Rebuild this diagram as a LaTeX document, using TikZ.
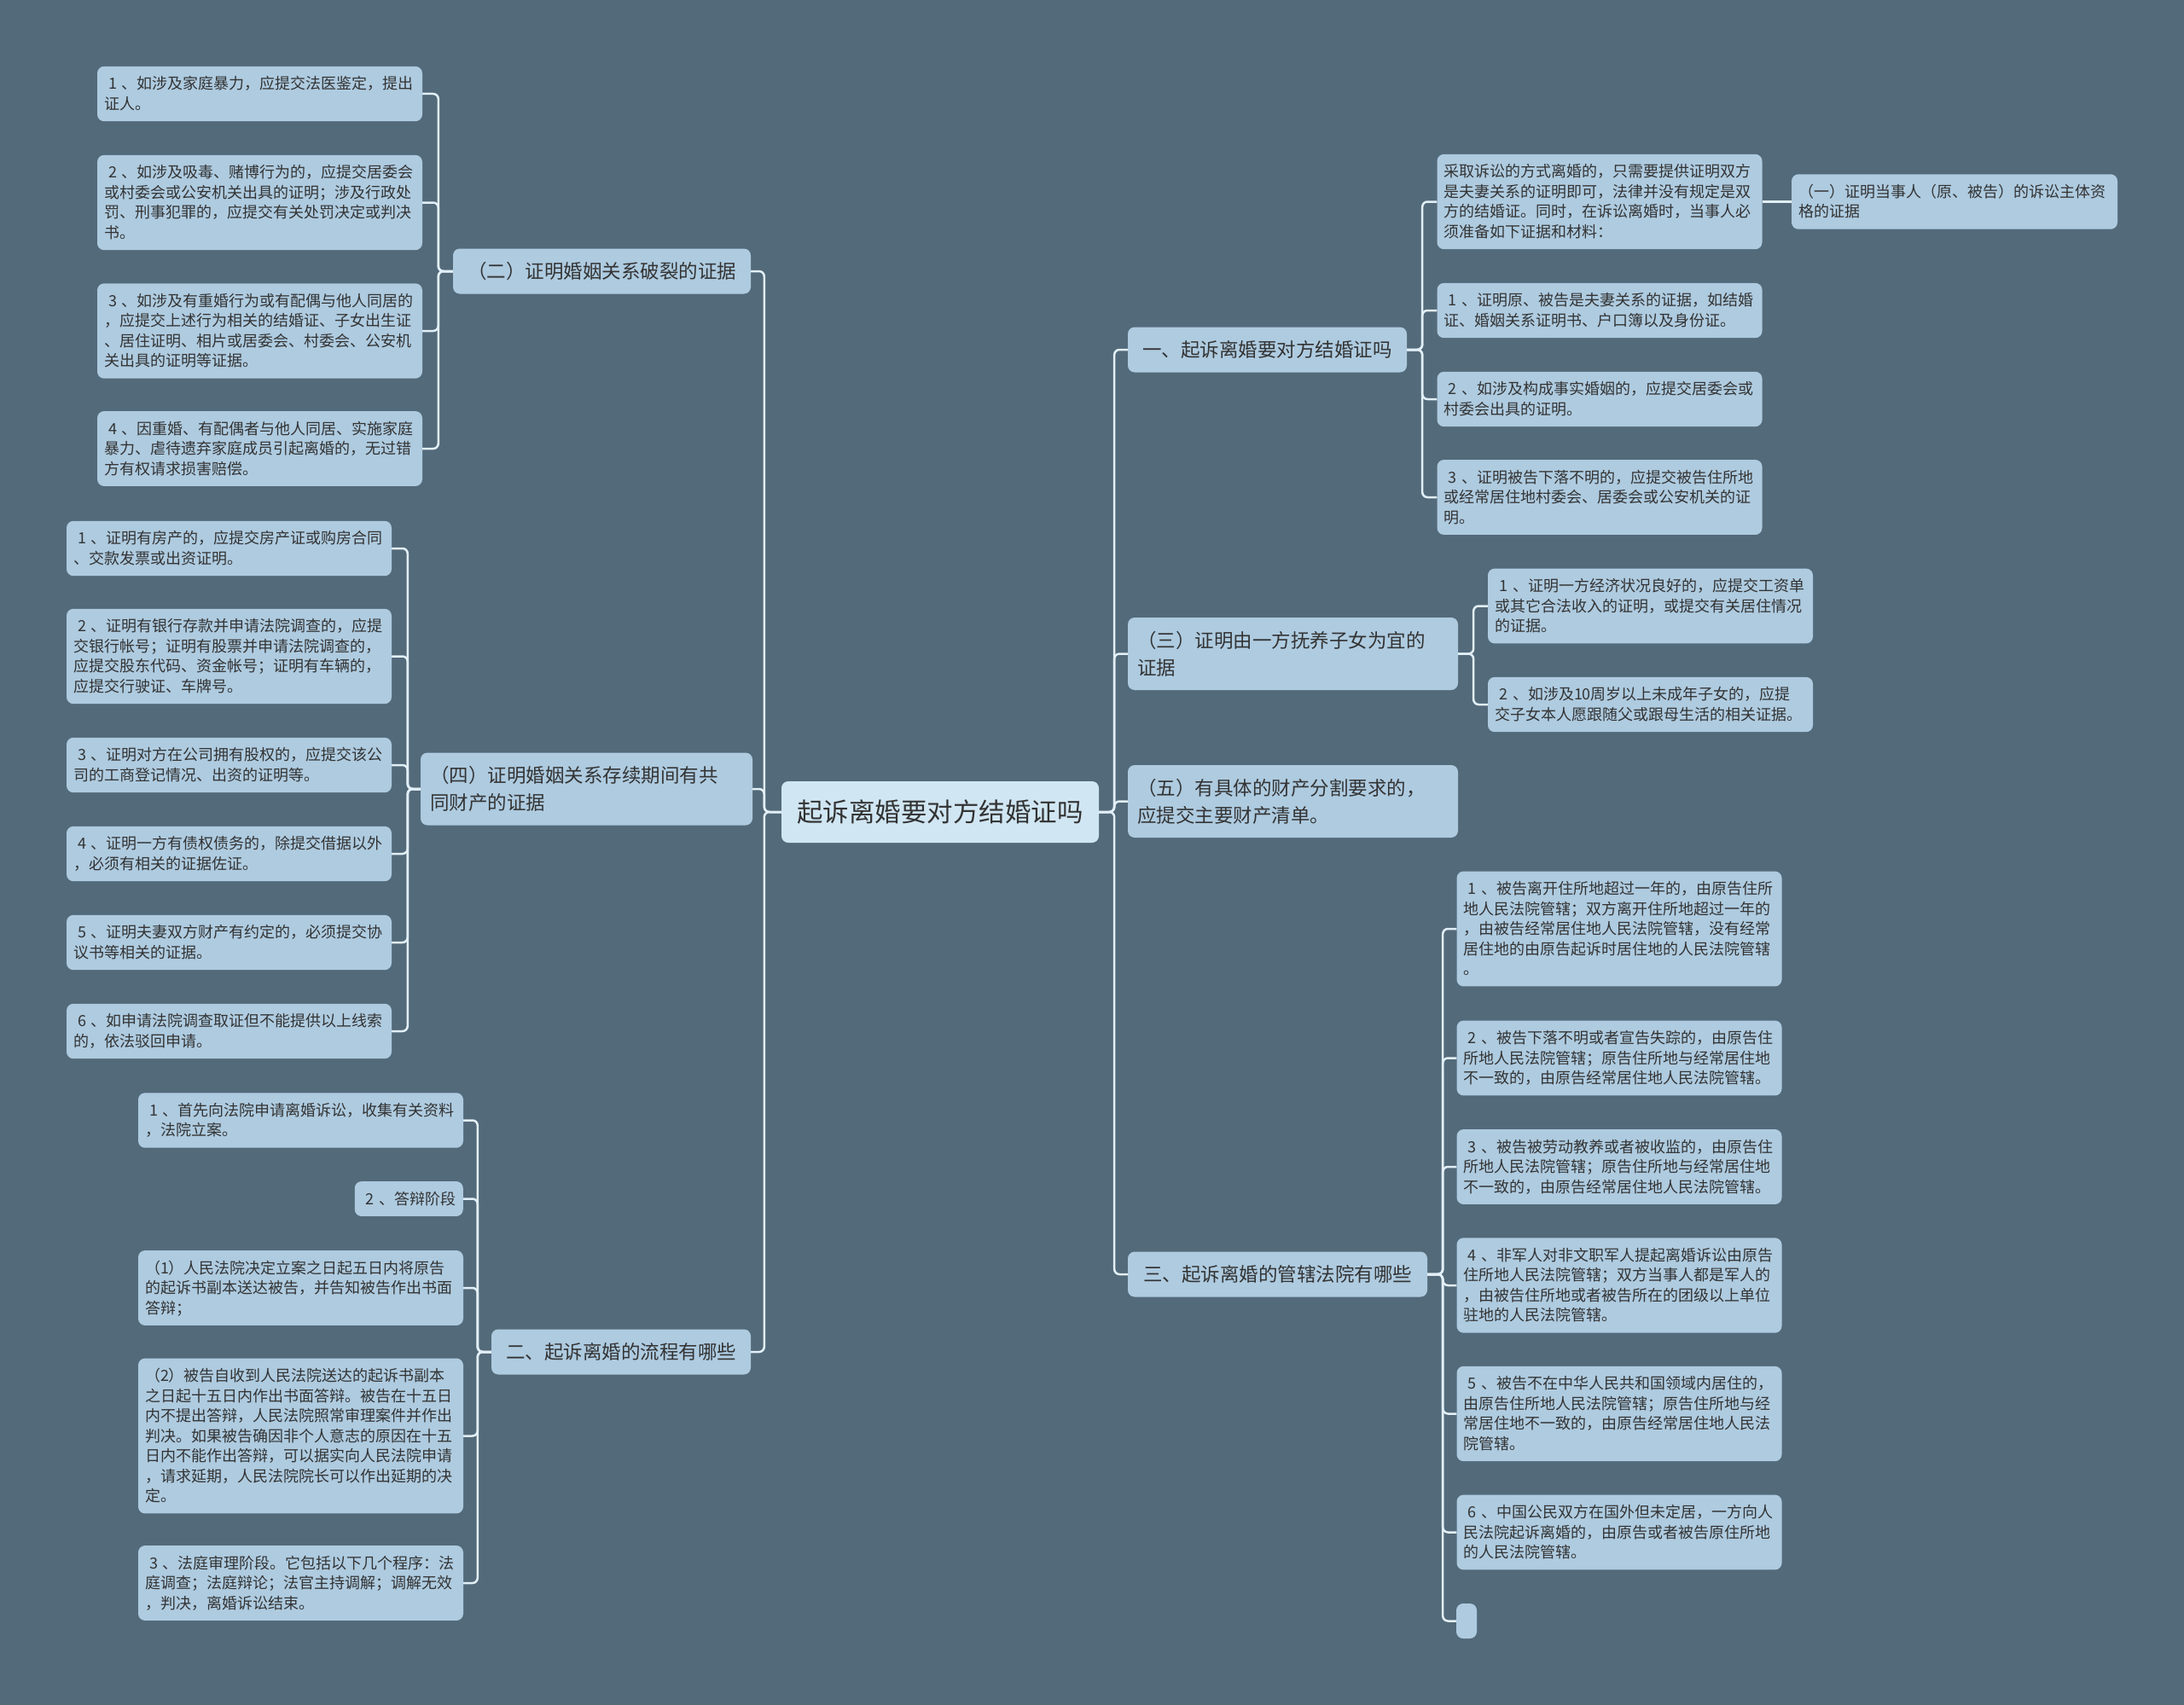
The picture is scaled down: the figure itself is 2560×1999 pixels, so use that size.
\documentclass[tikz,border=0pt]{standalone}
\usepackage{fontspec}
\setmainfont{Noto Sans CJK SC}
\usepackage{tikz}

\definecolor{bgcol}{HTML}{536A7A}
\definecolor{boxcol}{HTML}{AECBE0}
\definecolor{rootcol}{HTML}{D0E6F3}
\definecolor{linecol}{HTML}{E2EFF6}
\definecolor{txtcol}{HTML}{333333}

\newcommand\leaffont{\fontsize{18}{23.5}\selectfont}
\newcommand\branchfont{\fontsize{22.5}{32}\selectfont}
\newcommand\rootfont{\fontsize{30.5}{40}\selectfont}
\newcommand\boxstrut{\rule[-0.22\baselineskip]{0pt}{\baselineskip}}
\newcommand\idx[1]{\hspace{5pt}#1\hspace{6pt}}

\tikzset{
  box/.style={rounded corners=8pt, fill=boxcol, text=txtcol, align=left,
    execute at begin node=\boxstrut, execute at end node=\boxstrut},
  leaf/.style={box, font=\leaffont, text width=365pt, inner xsep=8pt, inner ysep=8.7pt},
  branch/.style={box, font=\branchfont, inner xsep=11pt, inner ysep=10.5pt},
  link/.style={draw=linecol, line width=2.5pt, rounded corners=6pt},
}

\begin{document}
\begin{tikzpicture}[x=1pt,y=-1pt]
\fill[bgcol] (0,0) rectangle (2560,1999);
\useasboundingbox (0,0) rectangle (2560,1999);

% root
\node[box, fill=rootcol, font=\rootfont, text width=340pt, align=center, inner xsep=16pt, inner ysep=16pt] (root) at (1102,952) {起诉离婚要对方结婚证吗};

% left branches
\node[branch, text width=327pt, align=center] (rupture) at (705.5,318) {（二）证明婚姻关系破裂的证据};
\node[branch, text width=367pt] (property) at (687.5,925) {（四）证明婚姻关系存续期间有共\\同财产的证据};
\node[branch, text width=282pt, align=center] (process) at (728,1585) {二、起诉离婚的流程有哪些};

% right branches
\node[branch, text width=305pt, align=center] (marriage) at (1485.5,410) {一、起诉离婚要对方结婚证吗};
\node[branch, text width=365pt] (custody) at (1515.5,766.5) {（三）证明由一方抚养子女为宜的\\证据};
\node[branch, text width=365pt] (division) at (1515.5,939.5) {（五）有具体的财产分割要求的，\\应提交主要财产清单。};
\node[branch, text width=329pt, align=center] (court) at (1497.5,1494) {三、起诉离婚的管辖法院有哪些};

% (二)
\node[leaf] (rup1) at (304.5,110) {\idx{1}、如涉及家庭暴力，应提交法医鉴定，提出\\证人。};
\node[leaf] (rup2) at (304.5,237.5) {\idx{2}、如涉及吸毒、赌博行为的，应提交居委会\\或村委会或公安机关出具的证明；涉及行政处\\罚、刑事犯罪的，应提交有关处罚决定或判决\\书。};
\node[leaf] (rup3) at (304.5,388) {\idx{3}、如涉及有重婚行为或有配偶与他人同居的\\，应提交上述行为相关的结婚证、子女出生证\\、居住证明、相片或居委会、村委会、公安机\\关出具的证明等证据。};
\node[leaf] (rup4) at (304.5,526) {\idx{4}、因重婚、有配偶者与他人同居、实施家庭\\暴力、虐待遗弃家庭成员引起离婚的，无过错\\方有权请求损害赔偿。};

% (四)
\node[leaf] (prop1) at (268.5,643) {\idx{1}、证明有房产的，应提交房产证或购房合同\\、交款发票或出资证明。};
\node[leaf] (prop2) at (268.5,769.5) {\idx{2}、证明有银行存款并申请法院调查的，应提\\交银行帐号；证明有股票并申请法院调查的，\\应提交股东代码、资金帐号；证明有车辆的，\\应提交行驶证、车牌号。};
\node[leaf] (prop3) at (268.5,897) {\idx{3}、证明对方在公司拥有股权的，应提交该公\\司的工商登记情况、出资的证明等。};
\node[leaf] (prop4) at (268.5,1001) {\idx{4}、证明一方有债权债务的，除提交借据以外\\，必须有相关的证据佐证。};
\node[leaf] (prop5) at (268.5,1105) {\idx{5}、证明夫妻双方财产有约定的，必须提交协\\议书等相关的证据。};
\node[leaf] (prop6) at (268.5,1209) {\idx{6}、如申请法院调查取证但不能提供以上线索\\的，依法驳回申请。};

% 二、流程
\node[leaf] (proc1) at (352.5,1313.5) {\idx{1}、首先向法院申请离婚诉讼，收集有关资料\\，法院立案。};
\node[leaf, text width=111pt, align=center, anchor=east] (proc2) at (543,1405.5) {\idx{2}、答辩阶段};
\node[leaf] (proc3) at (352.5,1510) {（1）人民法院决定立案之日起五日内将原告\\的起诉书副本送达被告，并告知被告作出书面\\答辩；};
\node[leaf] (proc4) at (352.5,1683.5) {（2）被告自收到人民法院送达的起诉书副本\\之日起十五日内作出书面答辩。被告在十五日\\内不提出答辩，人民法院照常审理案件并作出\\判决。如果被告确因非个人意志的原因在十五\\日内不能作出答辩，可以据实向人民法院申请\\，请求延期，人民法院院长可以作出延期的决\\定。};
\node[leaf] (proc5) at (352.5,1856) {\idx{3}、法庭审理阶段。它包括以下几个程序：法\\庭调查；法庭辩论；法官主持调解；调解无效\\，判决，离婚诉讼结束。};

% 一、
\node[leaf] (mar0) at (1875,236.5) {采取诉讼的方式离婚的，只需要提供证明双方\\是夫妻关系的证明即可，法律并没有规定是双\\方的结婚证。同时，在诉讼离婚时，当事人必\\须准备如下证据和材料：};
\node[leaf] (mar1) at (1875,364) {\idx{1}、证明原、被告是夫妻关系的证据，如结婚\\证、婚姻关系证明书、户口簿以及身份证。};
\node[leaf] (mar2) at (1875,468) {\idx{2}、如涉及构成事实婚姻的，应提交居委会或\\村委会出具的证明。};
\node[leaf] (mar3) at (1875,583) {\idx{3}、证明被告下落不明的，应提交被告住所地\\或经常居住地村委会、居委会或公安机关的证\\明。};
\node[leaf, text width=366pt] (subj) at (2291,236.5) {（一）证明当事人（原、被告）的诉讼主体资\\格的证据};

% (三)
\node[leaf] (cus1) at (1934.5,710.5) {\idx{1}、证明一方经济状况良好的，应提交工资单\\或其它合法收入的证明，或提交有关居住情况\\的证据。};
\node[leaf] (cus2) at (1934.5,826) {\idx{2}、如涉及10周岁以上未成年子女的，应提\\交子女本人愿跟随父或跟母生活的相关证据。};

% 三、管辖
\node[leaf] (court1) at (1898,1089) {\idx{1}、被告离开住所地超过一年的，由原告住所\\地人民法院管辖；双方离开住所地超过一年的\\，由被告经常居住地人民法院管辖，没有经常\\居住地的由原告起诉时居住地的人民法院管辖\\。};
\node[leaf] (court2) at (1898,1240.5) {\idx{2}、被告下落不明或者宣告失踪的，由原告住\\所地人民法院管辖；原告住所地与经常居住地\\不一致的，由原告经常居住地人民法院管辖。};
\node[leaf] (court3) at (1898,1368) {\idx{3}、被告被劳动教养或者被收监的，由原告住\\所地人民法院管辖；原告住所地与经常居住地\\不一致的，由原告经常居住地人民法院管辖。};
\node[leaf] (court4) at (1898,1507) {\idx{4}、非军人对非文职军人提起离婚诉讼由原告\\住所地人民法院管辖；双方当事人都是军人的\\，由被告住所地或者被告所在的团级以上单位\\驻地的人民法院管辖。};
\node[leaf] (court5) at (1898,1657.5) {\idx{5}、被告不在中华人民共和国领域内居住的，\\由原告住所地人民法院管辖；原告住所地与经\\常居住地不一致的，由原告经常居住地人民法\\院管辖。};
\node[leaf] (court6) at (1898,1796.5) {\idx{6}、中国公民双方在国外但未定居，一方向人\\民法院起诉离婚的，由原告或者被告原住所地\\的人民法院管辖。};
\node[box, minimum width=24pt, minimum height=41pt, inner sep=0pt] (court7) at (1719,1900.5) {};

% connectors
\foreach \b in {rupture,property,process}
  \draw[link] (root.west) -- ++(-20,0) |- (\b.east);
\foreach \b in {marriage,custody,division,court}
  \draw[link] (root.east) -- ++(18,0) |- (\b.west);
\foreach \c in {rup1,rup2,rup3,rup4}
  \draw[link] (rupture.west) -- ++(-17,0) |- (\c.east);
\foreach \c in {prop1,prop2,prop3,prop4,prop5,prop6}
  \draw[link] (property.west) -- ++(-15,0) |- (\c.east);
\foreach \c in {proc1,proc2,proc3,proc4,proc5}
  \draw[link] (process.west) -- ++(-16,0) |- (\c.east);
\foreach \c in {mar0,mar1,mar2,mar3}
  \draw[link] (marriage.east) -- ++(18,0) |- (\c.west);
\draw[link] (mar0.east) -- (subj.west);
\foreach \c in {cus1,cus2}
  \draw[link] (custody.east) -- ++(18,0) |- (\c.west);
\foreach \c in {court1,court2,court3,court4,court5,court6,court7}
  \draw[link] (court.east) -- ++(18,0) |- (\c.west);
\end{tikzpicture}
\end{document}
